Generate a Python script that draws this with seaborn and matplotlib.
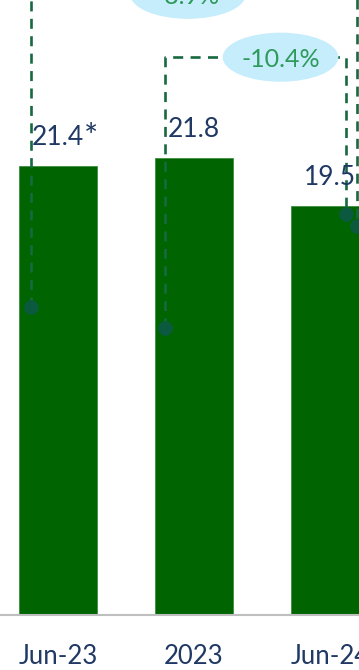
import matplotlib
matplotlib.use("Agg")
import matplotlib.pyplot as plt
import seaborn as sns
import pandas as pd
from matplotlib.patches import Ellipse

# Ratio per reporting period
periods = ["Jun-23", "2023", "Jun-24"]
ratios = [21.4, 21.8, 19.5]
ratio_notes = ["*", "", ""]

# Period-over-period changes shown as dashed brackets
change_labels = ["-8.9%", "-10.4%"]
change_from = [0, 1]
change_to = [2, 2]
change_from_level = [14.7, 13.7]
change_to_level = [18.55, 19.1]
change_top = [29.6, 26.6]

BAR_GREEN = "#006400"
NAVY = "#1f3864"
LINE_GREEN = "#17693f"
DOT_GREEN = "#0b5a40"
PCT_GREEN = "#2f9a5c"
BUBBLE = "#c5edfb"

sns.set_theme(style="white")
plt.rcParams["font.family"] = ["Lato", "DejaVu Sans"]

fig = plt.figure(figsize=(3.59, 6.70), dpi=100)
ax = fig.add_axes([0, 55 / 670, 1, 615 / 670])

df = pd.DataFrame({"period": periods, "ratio": ratios})
sns.barplot(data=df, x="period", y="ratio", color=BAR_GREEN, saturation=1,
            width=0.57, edgecolor="#3f8f3f", linewidth=0.6, ax=ax, zorder=2)

ax.set_xlim(-58 / 136, (359 - 58) / 136)
ax.set_ylim(0, 615 / 20.97)

# value labels above the bars
for i, (v, note) in enumerate(zip(ratios, ratio_notes)):
    t = ax.annotate(f"{v:.1f}", xy=(i, v), xytext=(0, 15), textcoords="offset points",
                    ha="center", va="baseline", fontsize=19, color=NAVY, zorder=6)
    if note:
        ax.annotate(note, xy=(1, 1), xycoords=t, xytext=(0, 2), textcoords="offset points",
                    ha="left", va="top", fontsize=24, color=NAVY, zorder=6)

# dashed change brackets with bubble labels
from_offset = [-0.196, -0.21]
to_offset = [0.199, 0.118]
bubble_x = [0.956, 1.636]
text_dy = [0.0, 0.0]
for i, lab in enumerate(change_labels):
    x0 = change_from[i] + from_offset[i]
    x1 = change_to[i] + to_offset[i]
    top = change_top[i]
    ax.plot([x0, x0, x1, x1], [change_from_level[i], top, top, change_to_level[i]],
            ls=(0, (3.8, 2.8)), color=LINE_GREEN, lw=1.9, clip_on=False, zorder=3)
    ax.plot([x0, x1], [change_from_level[i], change_to_level[i]], "o", ms=10.5,
            color=DOT_GREEN, mec="none", clip_on=False, zorder=4)
    ax.add_patch(Ellipse((bubble_x[i], top), 0.85, 2.34, facecolor=BUBBLE,
                         edgecolor="none", zorder=5, clip_on=False))
    ax.text(bubble_x[i], top + text_dy[i], lab, ha="center", va="center_baseline",
            fontsize=18, color=PCT_GREEN, zorder=6, clip_on=False)

ax.set_xlabel("")
ax.set_ylabel("")
ax.set_yticks([])
ax.tick_params(axis="x", length=0, pad=21, labelsize=18.5, labelcolor=NAVY)
for s in ["left", "top", "right"]:
    ax.spines[s].set_visible(False)
ax.spines["bottom"].set_color("#bfbfbf")
ax.spines["bottom"].set_linewidth(1.5)

fig.savefig("out.png", dpi=100)
